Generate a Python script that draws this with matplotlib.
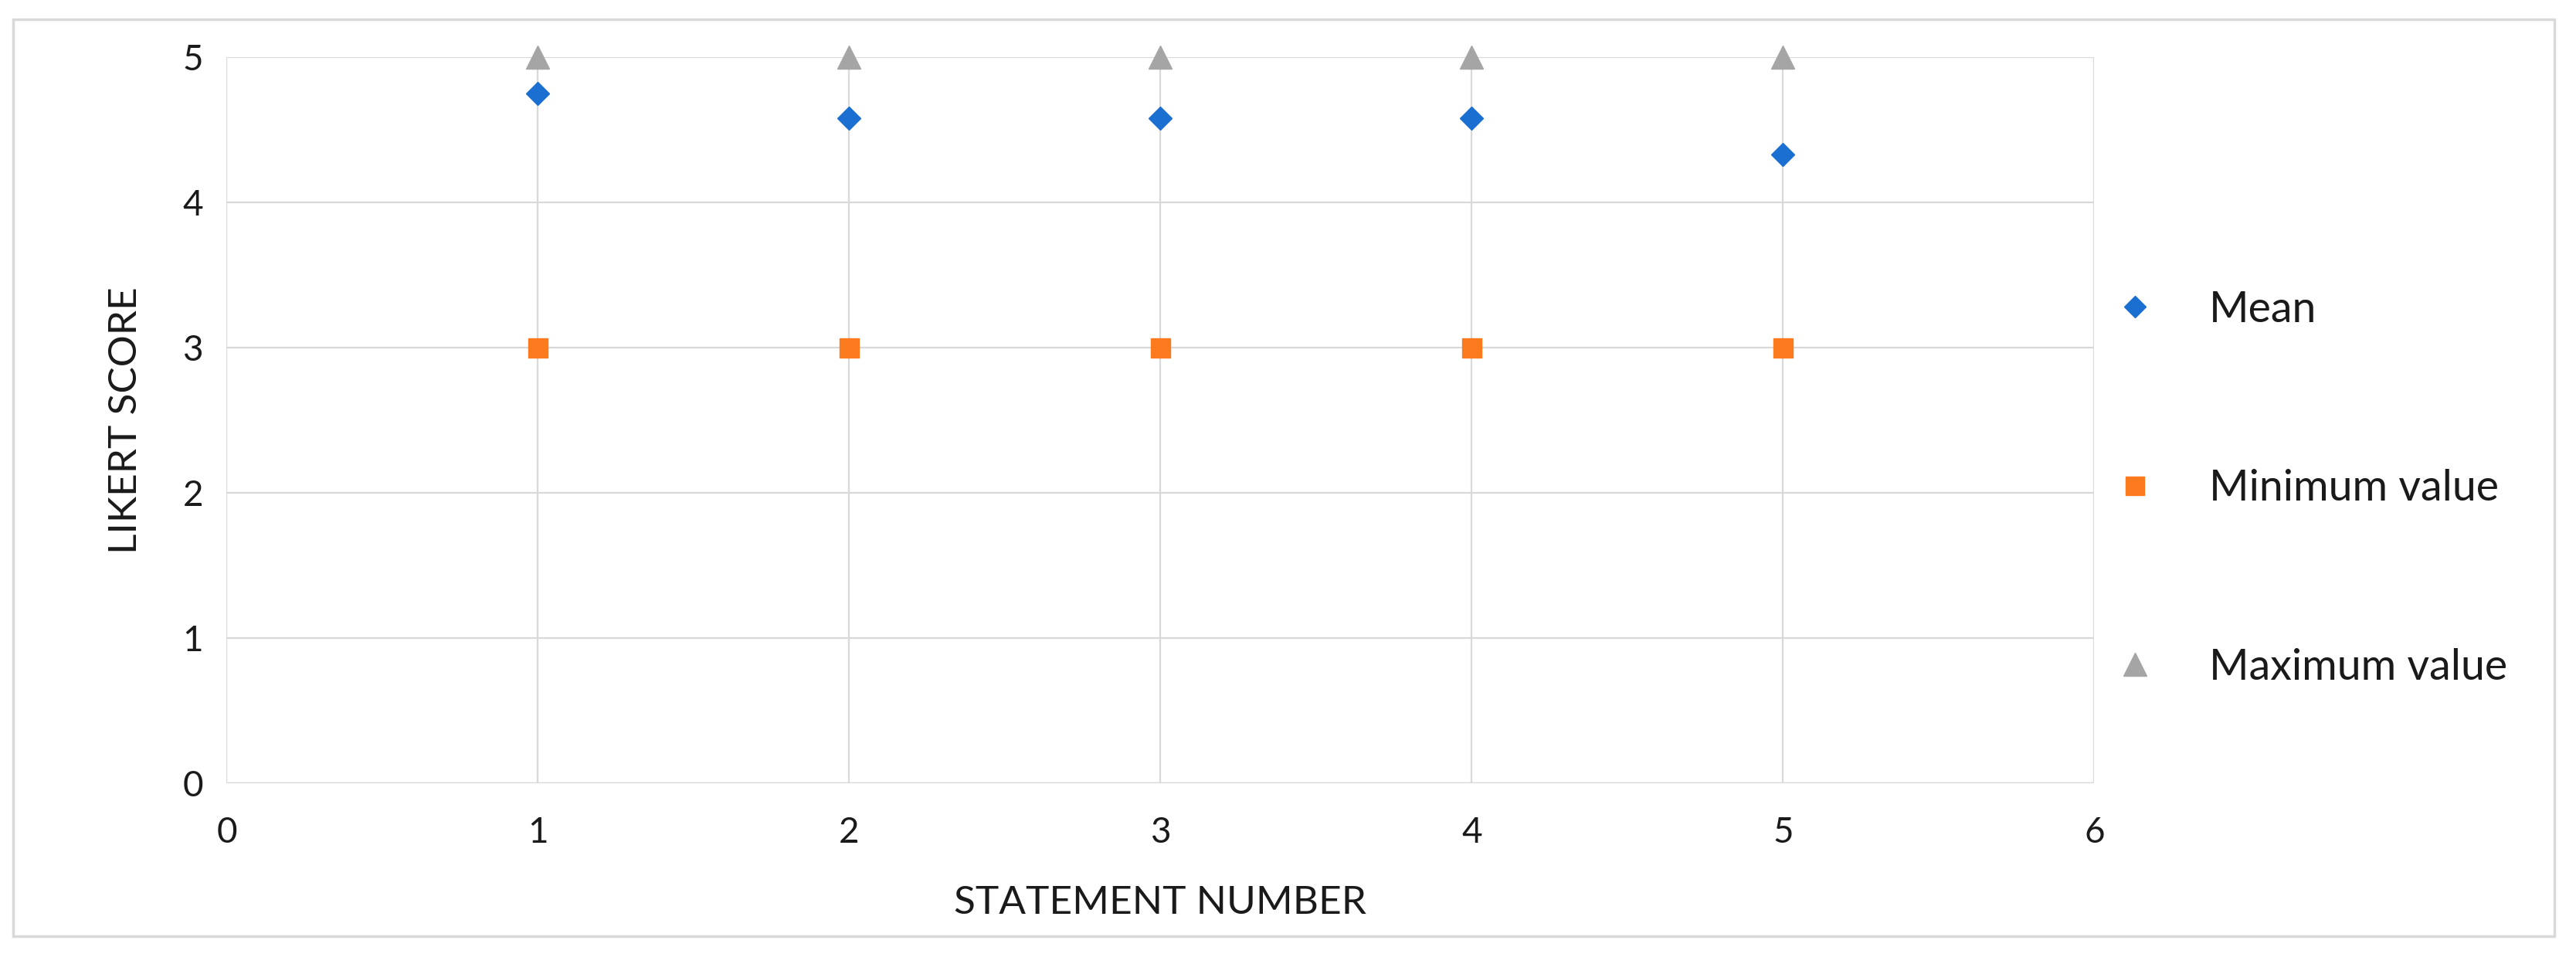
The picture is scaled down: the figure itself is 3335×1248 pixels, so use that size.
import matplotlib.pyplot as plt
from matplotlib.patches import Rectangle

plt.rcParams['font.family'] = ['Lato', 'DejaVu Sans']

statements = [1, 2, 3, 4, 5]
mean_scores = [4.75, 4.58, 4.58, 4.58, 4.33]
min_scores = [3, 3, 3, 3, 3]
max_scores = [5, 5, 5, 5, 5]

grid_col = "#d9d9d9"
txt_col = "#1a1a1a"

fig = plt.figure(figsize=(33.35, 12.48), dpi=100)
ax = fig.add_axes([0.088, 0.1874, 0.725, 0.753])

ax.plot(statements, mean_scores, ls="none", marker="D", ms=15, color="#1a6fd0", label="Mean", zorder=3, clip_on=False)
ax.plot(statements, min_scores, ls="none", marker="s", ms=18, color="#fb7a1e", label="Minimum value", zorder=3, clip_on=False)
ax.plot(statements, max_scores, ls="none", marker="^", ms=22, color="#a5a5a5", label="Maximum value", zorder=3, clip_on=False)

ax.set_xlim(0, 6)
ax.set_ylim(0, 5)
ax.set_xticks(range(0, 7))
ax.set_yticks(range(0, 6))
ax.grid(True, color=grid_col, lw=1.6, zorder=0)
for s in ax.spines.values():
    s.set_visible(False)
ax.axhline(0, color=grid_col, lw=2.5, zorder=1)
ax.tick_params(length=0, labelsize=33, labelcolor=txt_col)
ax.tick_params(axis="x", pad=31)
ax.tick_params(axis="y", pad=22)

ax.set_xlabel("STATEMENT NUMBER", fontsize=37, color=txt_col, labelpad=34)
ax.set_ylabel("LIKERT SCORE", fontsize=37, color=txt_col, labelpad=36)

fig.legend(loc="center left", bbox_to_anchor=(0.797, 0.493), bbox_transform=fig.transFigure,
           frameon=False, fontsize=40, labelspacing=3.25, handletextpad=0.73, markerscale=0.95,
           labelcolor=txt_col)

fig.patches.append(Rectangle((0.005, 0.029), 0.9867, 0.9506, transform=fig.transFigure,
                             fill=False, edgecolor=grid_col, lw=2.5))

fig.savefig("out.png", dpi=100, facecolor="white")
